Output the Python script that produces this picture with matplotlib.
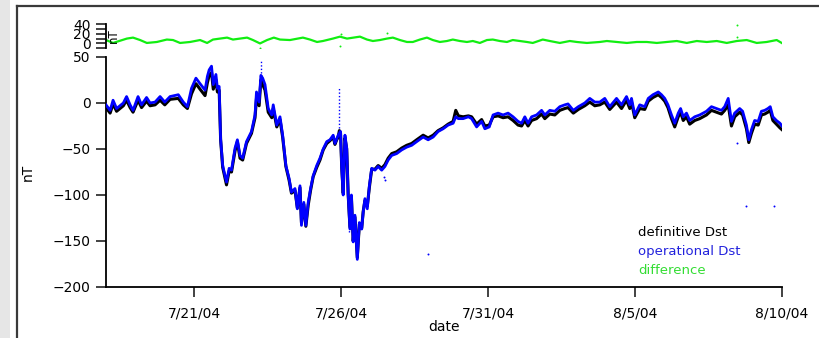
import matplotlib
matplotlib.use("Agg")
import matplotlib.pyplot as plt
import matplotlib.dates as mdates
from matplotlib.patches import Rectangle
from matplotlib.lines import Line2D
import pandas as pd

# ---------------- data (days after 2004-07-18 00:00) ----------------
start_date = "2004-07-18"
end_date = "2004-08-10"

dst_days = [0.00, 0.14, 0.24, 0.36, 0.59, 0.70, 0.82, 0.92, 1.09, 1.21, 1.38, 1.50, 1.67, 1.84, 2.00,
            2.18, 2.46, 2.63, 2.77, 2.91, 3.06, 3.20, 3.37, 3.45, 3.51, 3.59, 3.65, 3.74, 3.79, 3.85,
            3.90, 3.97, 4.05, 4.10, 4.19, 4.27, 4.39, 4.47, 4.56, 4.65, 4.78, 4.95, 5.07, 5.12, 5.21,
            5.27, 5.33, 5.41, 5.52, 5.64, 5.69, 5.81, 5.92, 6.01, 6.12, 6.23, 6.31, 6.43, 6.51, 6.60,
            6.65, 6.73, 6.80, 6.88, 6.96, 7.05, 7.17, 7.28, 7.39, 7.51, 7.62, 7.73, 7.79, 7.85, 7.90,
            7.94, 7.98, 8.02, 8.07, 8.13, 8.19, 8.24, 8.30, 8.35, 8.41, 8.47, 8.55, 8.62, 8.70, 8.75,
            8.81, 8.89, 8.96, 9.04, 9.15, 9.26, 9.38, 9.49, 9.60, 9.72, 9.89, 10.06, 10.23, 10.40, 10.57,
            10.79, 10.96, 11.13, 11.30, 11.47, 11.64, 11.81, 11.90, 11.99, 12.15, 12.33, 12.44, 12.61, 12.78, 12.89,
            13.04, 13.17, 13.34, 13.51, 13.68, 13.85, 14.02, 14.14, 14.25, 14.36, 14.48, 14.65, 14.82, 14.93, 15.10,
            15.27, 15.44, 15.61, 15.72, 15.90, 16.07, 16.29, 16.46, 16.63, 16.80, 16.97, 17.14, 17.37, 17.54, 17.71,
            17.82, 17.88, 17.99, 18.16, 18.33, 18.45, 18.61, 18.79, 18.90, 19.01, 19.12, 19.24, 19.35, 19.47, 19.55,
            19.64, 19.75, 19.86, 20.03, 20.20, 20.43, 20.60, 20.77, 20.94, 21.05, 21.17, 21.28, 21.39, 21.56, 21.66,
            21.79, 21.87, 21.96, 22.07, 22.19, 22.30, 22.41, 22.52, 22.60, 22.69, 22.81, 22.93, 23.00]

operational_dst = [-2, -8, 3, -6, 0, 7, -2, -8, 7, -2, 6, 0, 1, 7, 1,
                   7, 9, 1, -4, 16, 27, 21, 14, 29, 36, 40, 20, 31, 16, 18,
                   -39, -68, -79, -86, -71, -73, -49, -40, -57, -60, -42, -31, -13, 12, 1,
                   30, 27, 20, -6, -13, -2, -24, -15, -35, -68, -82, -97, -93, -115, -90,
                   -133, -108, -133, -108, -93, -79, -68, -60, -50, -42, -40, -35, -44, -39, -35,
                   -33, -31, -71, -100, -35, -49, -100, -137, -100, -151, -122, -170, -130, -137, -119,
                   -104, -115, -90, -71, -73, -69, -73, -69, -62, -57, -55, -51, -48, -46, -42,
                   -37, -40, -37, -31, -28, -24, -22, -15, -17, -17, -15, -17, -26, -20, -28,
                   -26, -13, -11, -13, -11, -15, -20, -22, -15, -22, -15, -13, -8, -13, -8,
                   -9, -4, -2, -1, -8, -4, 0, 5, 1, 1, 5, -4, 5, -2, 7,
                   -2, 5, -13, -2, -4, 5, 9, 12, 9, 5, -2, -13, -22, -11, -6,
                   -15, -11, -19, -15, -13, -9, -4, -6, -8, -4, 5, -20, -11, -6, -9,
                   -24, -40, -29, -19, -20, -9, -8, -6, -4, -15, -19, -22, -25]

definitive_dst = [-5, -11, -1, -9, -3, 3, -5, -10, 3, -5, 2, -3, -2, 3, -2,
                  4, 5, -2, -6, 10, 21, 15, 8, 22, 30, 33, 15, 25, 12, 14,
                  -40, -70, -82, -89, -74, -75, -52, -42, -60, -62, -44, -33, -16, 5, -3,
                  25, 20, 14, -10, -16, -6, -26, -18, -37, -69, -84, -98, -95, -114, -92,
                  -130, -110, -134, -111, -95, -80, -70, -62, -51, -44, -41, -37, -45, -40, -37,
                  -30, -33, -70, -98, -38, -50, -100, -135, -102, -150, -124, -168, -132, -136, -118,
                  -106, -112, -92, -72, -72, -68, -71, -67, -60, -55, -53, -49, -46, -44, -40,
                  -35, -38, -35, -30, -27, -23, -20, -8, -14, -15, -14, -15, -23, -18, -25,
                  -24, -15, -14, -16, -15, -19, -24, -25, -19, -25, -19, -17, -12, -17, -12,
                  -13, -8, -6, -5, -11, -7, -3, 1, -3, -2, 1, -7, 1, -6, 3,
                  -6, 1, -16, -6, -7, 2, 6, 9, 6, 2, -5, -17, -26, -15, -10,
                  -19, -15, -23, -19, -17, -13, -8, -10, -12, -8, -2, -25, -15, -10, -13,
                  -28, -43, -33, -23, -24, -13, -12, -10, -8, -19, -23, -27, -29]

# thin dotted spikes of the operational index
spike_days = [5.27, 7.94, 8.27]
spike_top = [46, 16, -100]
spike_bottom = [25, -35, -140]

# isolated operational points
op_dot_days = [9.47, 9.50, 10.94, 21.47, 21.76, 22.72]
op_dot_vals = [-80, -84, -164, -43, -112, -112]

diff_days = [0.00, 0.24, 0.71, 0.92, 1.16, 1.39, 1.73, 2.07, 2.28, 2.52,
             2.86, 3.20, 3.44, 3.64, 4.12, 4.32, 4.56, 4.80, 5.00, 5.24,
             5.48, 5.71, 5.92, 6.26, 6.70, 6.94, 7.18, 7.38, 7.72, 7.96,
             8.20, 8.64, 8.88, 9.08, 9.32, 9.56, 9.76, 10.00, 10.24, 10.44,
             10.68, 10.92, 11.12, 11.36, 11.60, 11.80, 12.04, 12.28, 12.48, 12.72,
             12.96, 13.16, 13.40, 13.64, 13.84, 14.08, 14.32, 14.52, 14.86, 15.10,
             15.44, 15.78, 16.02, 16.36, 16.80, 17.04, 17.38, 17.72, 18.06, 18.40,
             18.74, 19.08, 19.42, 19.76, 20.10, 20.44, 20.78, 21.12, 21.46, 21.80,
             22.14, 22.48, 22.82, 22.99]
difference = [7, 1, 10, 12, 7, 1, 3, 8, 7, 1,
              3, 7, 1, 8, 12, 8, 10, 12, 7, 0,
              7, 12, 8, 7, 12, 8, 3, 5, 10, 14,
              10, 14, 8, 5, 7, 10, 12, 7, 3, 3,
              8, 12, 7, 3, 5, 8, 5, 3, 5, 1,
              7, 8, 5, 3, 7, 5, 3, 1, 8, 5,
              1, 5, 3, 1, 3, 5, 3, 1, 3, 3,
              1, 3, 5, 1, 5, 3, 5, 1, 5, 7,
              1, 3, 7, 1]
diff_dot_days = [5.24, 5.26, 7.96, 8.00, 9.55, 21.46, 21.46]
diff_dot_vals = [-10, -14, -6, 20, 22, 38, 13]

x_tick_dates = ["2004-07-21", "2004-07-26", "2004-07-31", "2004-08-05", "2004-08-10"]
x_tick_labels = ["7/21/04", "7/26/04", "7/31/04", "8/5/04", "8/10/04"]
y_ticks = [50, 0, -50, -100, -150, -200]
diff_major_ticks = [0, 20, 40]
diff_minor_ticks = [-10, 10, 30]

legend_labels = ["definitive Dst", "operational Dst", "difference"]

# ---------------- helpers ----------------
t0 = pd.Timestamp(start_date)
def to_time(days):
    return t0 + pd.to_timedelta(pd.Series(days, dtype=float), unit="D")

BLUE = "#0000ff"
GREEN = "#11ee11"
W, H = 819, 338

plt.rcParams["font.family"] = ["DejaVu Sans"]
fig = plt.figure(figsize=(W / 100, H / 100), dpi=100)
fig.patch.set_facecolor("white")

# window-like frame
fig.patches.append(Rectangle((0, 0), 10 / W, 1, transform=fig.transFigure,
                             facecolor="#e6e6e6", edgecolor="none", zorder=0))
fig.lines.append(Line2D([17 / W, 17 / W], [0, 1 - 5.5 / H], transform=fig.transFigure,
                        color="#3a3a3a", lw=1.6))
fig.lines.append(Line2D([17 / W, 1], [1 - 5.5 / H, 1 - 5.5 / H], transform=fig.transFigure,
                        color="#3a3a3a", lw=1.6))

left, right = 106 / W, 782 / W
ax = fig.add_axes([left, 1 - 287 / H, right - left, (287 - 57) / H])
axd = fig.add_axes([left, 1 - 48.3 / H, right - left, (48.3 - 24) / H])

xmin, xmax = pd.Timestamp(start_date), pd.Timestamp(end_date)

# main panel
ax.plot(to_time(dst_days), definitive_dst, color="black", lw=2.2, zorder=2)
ax.plot(to_time(dst_days), operational_dst, color=BLUE, lw=2.0, zorder=3)
ax.vlines(to_time(spike_days), spike_bottom, spike_top, colors=BLUE, lw=1.0,
          linestyles=(0, (1, 1.5)), zorder=3)
ax.scatter(to_time(op_dot_days), op_dot_vals, s=2, color=BLUE, zorder=3, linewidths=0)
ax.set_xlim(xmin, xmax)
ax.set_ylim(-200, 50)
ax.set_yticks(y_ticks)
ax.set_xticks(pd.to_datetime(x_tick_dates))
ax.set_xticklabels(x_tick_labels)
for s in ["top", "right"]:
    ax.spines[s].set_visible(False)
for s in ["left", "bottom"]:
    ax.spines[s].set_linewidth(1.3)
ax.tick_params(direction="out", length=7, width=1.2, labelsize=10, color="#222222")
ax.tick_params(axis="x", pad=7)
ax.tick_params(axis="y", pad=4)
ax.set_xlabel("date", fontsize=10, labelpad=0)
ax.patch.set_alpha(0)
fig.text(28 / W, 1 - 172 / H, "nT", rotation=90, fontsize=10, ha="center", va="center")

# difference panel
axd.plot(to_time(diff_days), difference, color=GREEN, lw=1.6)
axd.scatter(to_time(diff_dot_days), diff_dot_vals, s=2, color=GREEN, linewidths=0)
axd.set_xlim(xmin, xmax)
axd.set_ylim(-10, 40)
axd.set_yticks(diff_major_ticks)
axd.set_yticks(diff_minor_ticks, minor=True)
axd.set_xticks([])
for s in ["top", "right", "bottom"]:
    axd.spines[s].set_visible(False)
axd.spines["left"].set_linewidth(1.3)
axd.tick_params(axis="y", which="both", direction="out", length=7, width=1.2,
                labelsize=10, pad=4, color="#222222")
axd.patch.set_alpha(0)
fig.text(113 / W, 1 - 36 / H, "nT", rotation=90, fontsize=8.5, ha="center", va="center")

# legend text
legend_colors = ["black", "#2222dd", "#33dd33"]
for i, (lab, col) in enumerate(zip(legend_labels, legend_colors)):
    fig.text(638 / W, 1 - (233 + 18.5 * i) / H, lab, color=col, fontsize=9.5,
             ha="left", va="center")

fig.savefig("out.png", dpi=100)
